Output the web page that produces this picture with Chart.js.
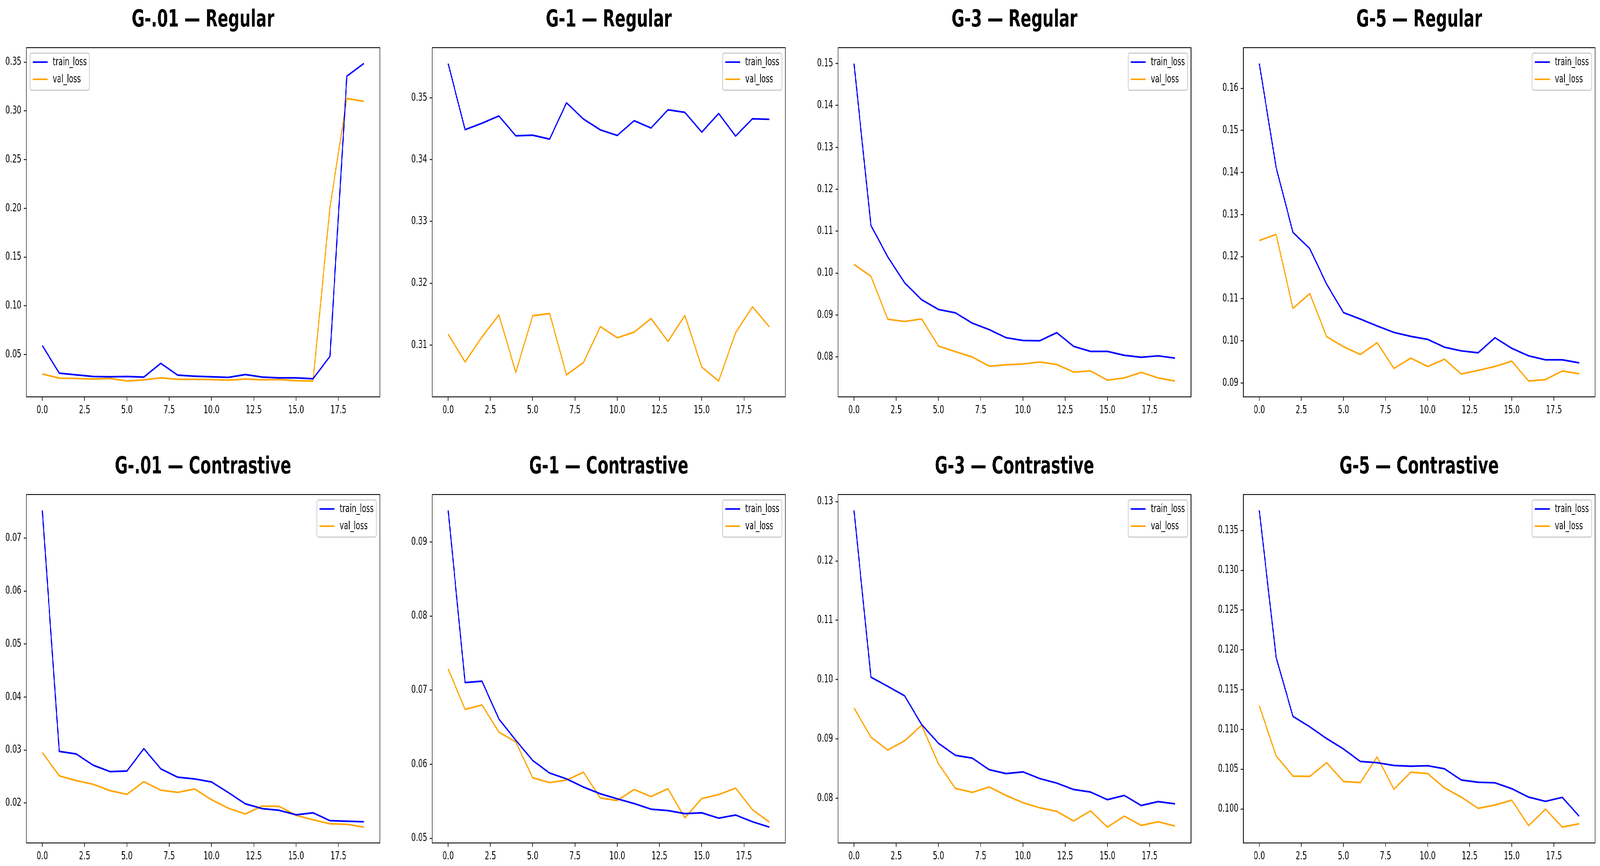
<!DOCTYPE html>
<html>
<head>
  <meta charset="utf-8">
  <title>Loss curves</title>
  <script src="https://cdn.jsdelivr.net/npm/chart.js"></script>
  <style>
    html, body { margin: 0; padding: 0; background: #fff; overflow: hidden; }
    #page { position: absolute; left: 0; top: 0; width: 6217px; height: 2217px; background: #fff; transform-origin: 0 0; }
    canvas { position: absolute; }
  </style>
</head>
<body>
  <div id="page"></div>
  <script>
    const epochs = [0, 1, 2, 3, 4, 5, 6, 7, 8, 9, 10, 11, 12, 13, 14, 15, 16, 17, 18, 19];
    const xTickValues = [0, 2.5, 5, 7.5, 10, 12.5, 15, 17.5];
    const xTickLabels = ['0.0', '2.5', '5.0', '7.5', '10.0', '12.5', '15.0', '17.5'];

    // G-.01 Regular
    const trainG01Reg = [0.0592, 0.0308, 0.0291, 0.0274, 0.0271, 0.0274, 0.0268, 0.0409, 0.0288, 0.0277, 0.0271, 0.0265, 0.0294, 0.0268, 0.0260, 0.0260, 0.0251, 0.0481, 0.3357, 0.3486];
    const valG01Reg = [0.0300, 0.0257, 0.0254, 0.0248, 0.0254, 0.0228, 0.0240, 0.0260, 0.0245, 0.0245, 0.0243, 0.0237, 0.0248, 0.0240, 0.0243, 0.0231, 0.0228, 0.2010, 0.3127, 0.3098];
    const yTicksG01Reg = ['0.05', '0.10', '0.15', '0.20', '0.25', '0.30', '0.35'];

    // G-1 Regular
    const trainG1Reg = [0.35555, 0.34485, 0.34589, 0.34707, 0.34386, 0.34395, 0.34332, 0.34919, 0.34657, 0.34481, 0.34391, 0.3463, 0.34512, 0.34806, 0.34765, 0.34445, 0.34747, 0.34381, 0.34661, 0.34652];
    const valG1Reg = [0.31176, 0.30725, 0.31131, 0.31488, 0.30558, 0.31474, 0.3151, 0.30517, 0.30716, 0.31298, 0.31117, 0.31208, 0.31429, 0.31059, 0.31479, 0.30643, 0.30418, 0.31199, 0.31619, 0.31293];
    const yTicksG1Reg = ['0.31', '0.32', '0.33', '0.34', '0.35'];

    // G-3 Regular
    const trainG3Reg = [0.1500, 0.1114, 0.10387, 0.09767, 0.09367, 0.09133, 0.09053, 0.08807, 0.08653, 0.0846, 0.08393, 0.08387, 0.0858, 0.08253, 0.08133, 0.08133, 0.0804, 0.07993, 0.08027, 0.07973];
    const valG3Reg = [0.10207, 0.09927, 0.089, 0.08847, 0.08907, 0.0826, 0.08127, 0.0800, 0.0778, 0.07813, 0.07833, 0.0788, 0.0782, 0.0764, 0.07667, 0.07447, 0.0750, 0.07633, 0.0750, 0.07427];
    const yTicksG3Reg = ['0.08', '0.09', '0.10', '0.11', '0.12', '0.13', '0.14', '0.15'];

    // G-5 Regular
    const trainG5Reg = [0.1659, 0.14122, 0.12576, 0.12191, 0.11348, 0.10672, 0.10519, 0.10353, 0.1020, 0.10107, 0.10035, 0.09849, 0.09762, 0.09716, 0.10074, 0.09822, 0.09643, 0.0955, 0.0955, 0.09477];
    const valG5Reg = [0.12384, 0.1253, 0.10771, 0.11123, 0.10101, 0.09862, 0.09676, 0.09955, 0.09345, 0.0959, 0.09391, 0.09563, 0.09212, 0.09298, 0.09391, 0.09517, 0.09046, 0.09079, 0.09284, 0.09218];
    const yTicksG5Reg = ['0.09', '0.10', '0.11', '0.12', '0.13', '0.14', '0.15', '0.16'];

    // G-.01 Contrastive
    const trainG01Con = [0.07524, 0.02974, 0.02926, 0.02714, 0.02593, 0.02603, 0.03026, 0.02646, 0.02487, 0.02455, 0.02397, 0.02196, 0.01984, 0.01894, 0.01862, 0.01778, 0.01815, 0.01667, 0.01656, 0.01646];
    const valG01Con = [0.02952, 0.02513, 0.02423, 0.02354, 0.02233, 0.02164, 0.02402, 0.02243, 0.02201, 0.02265, 0.02063, 0.0190, 0.01794, 0.01942, 0.01937, 0.01767, 0.01683, 0.01608, 0.01598, 0.01545];
    const yTicksG01Con = ['0.02', '0.03', '0.04', '0.05', '0.06', '0.07'];

    // G-1 Contrastive
    const trainG1Con = [0.09427, 0.07102, 0.07121, 0.06611, 0.06323, 0.06051, 0.05881, 0.05802, 0.05692, 0.05601, 0.05533, 0.05469, 0.05393, 0.05374, 0.05333, 0.05344, 0.05272, 0.05314, 0.05223, 0.05151];
    const valG1Con = [0.07287, 0.06739, 0.0680, 0.06433, 0.06301, 0.05817, 0.05752, 0.05786, 0.05892, 0.05544, 0.0551, 0.05658, 0.05563, 0.05669, 0.05276, 0.05537, 0.0559, 0.05677, 0.05386, 0.05219];
    const yTicksG1Con = ['0.05', '0.06', '0.07', '0.08', '0.09'];

    // G-3 Contrastive
    const trainG3Con = [0.12853, 0.10042, 0.09886, 0.09725, 0.09243, 0.08926, 0.08723, 0.08676, 0.08482, 0.08416, 0.08444, 0.08331, 0.08255, 0.08147, 0.08104, 0.07976, 0.08047, 0.07877, 0.07943, 0.07905];
    const valG3Con = [0.09522, 0.0903, 0.08813, 0.08969, 0.09229, 0.08581, 0.08165, 0.08099, 0.08189, 0.08047, 0.07924, 0.07839, 0.07778, 0.07617, 0.07787, 0.07513, 0.07698, 0.07542, 0.07603, 0.07532];
    const yTicksG3Con = ['0.08', '0.09', '0.10', '0.11', '0.12', '0.13'];

    // G-5 Contrastive
    const trainG5Con = [0.13754, 0.11907, 0.11164, 0.11033, 0.10885, 0.10755, 0.10597, 0.10582, 0.10547, 0.10537, 0.10544, 0.10505, 0.10364, 0.10336, 0.10329, 0.10255, 0.10149, 0.10096, 0.10146, 0.0991];
    const valG5Con = [0.11298, 0.10667, 0.10413, 0.1041, 0.10582, 0.10346, 0.10332, 0.10653, 0.10248, 0.10463, 0.10445, 0.10265, 0.10149, 0.10008, 0.1005, 0.1011, 0.0979, 0.09998, 0.09772, 0.09814];
    const yTicksG5Con = ['0.100', '0.105', '0.110', '0.115', '0.120', '0.125', '0.130', '0.135'];

    const panels = [
      { title: 'G-.01 \u2014 Regular', train: trainG01Reg, val: valG01Reg, yTicks: yTicksG01Reg, legend: 'left' },
      { title: 'G-1 \u2014 Regular', train: trainG1Reg, val: valG1Reg, yTicks: yTicksG1Reg },
      { title: 'G-3 \u2014 Regular', train: trainG3Reg, val: valG3Reg, yTicks: yTicksG3Reg },
      { title: 'G-5 \u2014 Regular', train: trainG5Reg, val: valG5Reg, yTicks: yTicksG5Reg },
      { title: 'G-.01 \u2014 Contrastive', train: trainG01Con, val: valG01Con, yTicks: yTicksG01Con },
      { title: 'G-1 \u2014 Contrastive', train: trainG1Con, val: valG1Con, yTicks: yTicksG1Con },
      { title: 'G-3 \u2014 Contrastive', train: trainG3Con, val: valG3Con, yTicks: yTicksG3Con },
      { title: 'G-5 \u2014 Contrastive', train: trainG5Con, val: valG5Con, yTicks: yTicksG5Con }
    ];

    // the page is designed at 6217x2217 and stretched to fill the viewport
    const PAGE_W = 6217, PAGE_H = 2217;
    const page = document.getElementById('page');
    const sx = window.innerWidth / PAGE_W;
    const sy = window.innerHeight > 0 ? window.innerHeight / PAGE_H : sx;
    page.style.transform = 'scale(' + sx + ',' + sy + ')';
    document.body.style.width = window.innerWidth + 'px';
    document.body.style.height = (PAGE_H * sy) + 'px';
    const DPR = (window.devicePixelRatio || 1) * Math.max(sx, sy);

    // axes boxes in page pixels
    const colX = [[102, 1476], [1679, 3052], [3256, 4628], [4831, 6198]];
    const rowY = [[122, 1016], [1266, 2158]];
    const TITLE_SPACE = 122, YAXIS_W = 110, XAXIS_H = 55, PAD_R = 4;
    const FONT = '"DejaVu Sans", "Liberation Sans", sans-serif';

    // frame, title and matplotlib style legend
    const mplDecor = {
      id: 'mplDecor',
      afterDraw(chart, args, opts) {
        const ctx = chart.ctx, a = chart.chartArea;
        ctx.save();
        ctx.strokeStyle = '#000';
        ctx.lineWidth = 2.2;
        ctx.strokeRect(a.left, a.top, a.right - a.left, a.bottom - a.top);

        ctx.fillStyle = '#000';
        ctx.font = 'bold 61px ' + FONT;
        ctx.textAlign = 'center';
        ctx.textBaseline = 'alphabetic';
        ctx.fillText(opts.title, (a.left + a.right) / 2, a.top - 54);

        ctx.font = '27.8px ' + FONT;
        const sets = chart.data.datasets;
        const tw = Math.max(...sets.map(d => ctx.measureText(d.label).width));
        const w = 88 + tw + 10, h = 95;
        const x = opts.side === 'left' ? a.left + 15 : a.right - 14 - w;
        const y = a.top + 14;
        ctx.beginPath();
        ctx.roundRect(x, y, w, h, 6);
        ctx.fillStyle = 'rgba(255,255,255,0.8)';
        ctx.fill();
        ctx.strokeStyle = '#cccccc';
        ctx.lineWidth = 2.8;
        ctx.stroke();
        sets.forEach((d, i) => {
          const ly = y + 23 + i * 44;
          ctx.strokeStyle = d.borderColor;
          ctx.lineWidth = 4.2;
          ctx.beginPath();
          ctx.moveTo(x + 10, ly);
          ctx.lineTo(x + 68, ly);
          ctx.stroke();
          ctx.fillStyle = '#000';
          ctx.textAlign = 'left';
          ctx.textBaseline = 'middle';
          ctx.fillText(d.label, x + 88, ly + 1);
        });
        ctx.restore();
      }
    };

    function makePanel(p, idx) {
      const [L, R] = colX[idx % 4];
      const [T, B] = rowY[Math.floor(idx / 4)];
      const canvas = document.createElement('canvas');
      const left = L - YAXIS_W, top = T - TITLE_SPACE;
      const width = R - L + YAXIS_W + PAD_R, height = B - top + XAXIS_H;
      canvas.width = width;
      canvas.height = height;
      canvas.style.left = left + 'px';
      canvas.style.top = top + 'px';
      page.appendChild(canvas);

      const all = p.train.concat(p.val);
      const lo = Math.min(...all), hi = Math.max(...all);
      const m = (hi - lo) * 0.05;
      const yVals = p.yTicks.map(Number);
      const tickFont = { family: FONT, size: 27.8 };

      new Chart(canvas.getContext('2d'), {
        type: 'line',
        data: {
          datasets: [
            { label: 'train_loss', data: epochs.map((e, i) => ({ x: e, y: p.train[i] })), borderColor: '#0000ff', backgroundColor: '#0000ff', borderWidth: 4.2, pointRadius: 0, tension: 0, fill: false, borderJoinStyle: 'round' },
            { label: 'val_loss', data: epochs.map((e, i) => ({ x: e, y: p.val[i] })), borderColor: '#ffa500', backgroundColor: '#ffa500', borderWidth: 4.2, pointRadius: 0, tension: 0, fill: false, borderJoinStyle: 'round' }
          ]
        },
        options: {
          responsive: false,
          animation: false,
          devicePixelRatio: DPR,
          layout: { padding: { top: TITLE_SPACE, right: PAD_R, left: 0, bottom: 0 } },
          plugins: {
            legend: { display: false },
            tooltip: { enabled: false },
            mplDecor: { title: p.title, side: p.legend || 'right' }
          },
          scales: {
            x: {
              type: 'linear',
              min: -0.95,
              max: 19.95,
              bounds: 'data',
              afterBuildTicks: s => { s.ticks = xTickValues.map(v => ({ value: v })); },
              afterFit: s => { s.height = XAXIS_H; },
              ticks: { autoSkip: false, maxRotation: 0, padding: 8, color: '#000', font: tickFont, callback: (v, i) => xTickLabels[i] },
              grid: { drawOnChartArea: false, tickLength: 10, tickWidth: 2.2, tickColor: '#000' },
              border: { display: false }
            },
            y: {
              type: 'linear',
              min: lo - m,
              max: hi + m,
              bounds: 'data',
              afterBuildTicks: s => { s.ticks = yVals.map(v => ({ value: v })); },
              afterFit: s => { s.width = YAXIS_W; },
              ticks: { autoSkip: false, padding: 9, color: '#000', font: tickFont, callback: (v, i) => p.yTicks[i] },
              grid: { drawOnChartArea: false, tickLength: 10, tickWidth: 2.2, tickColor: '#000' },
              border: { display: false }
            }
          }
        },
        plugins: [mplDecor]
      });
    }

    panels.forEach(makePanel);
  </script>
</body>
</html>
